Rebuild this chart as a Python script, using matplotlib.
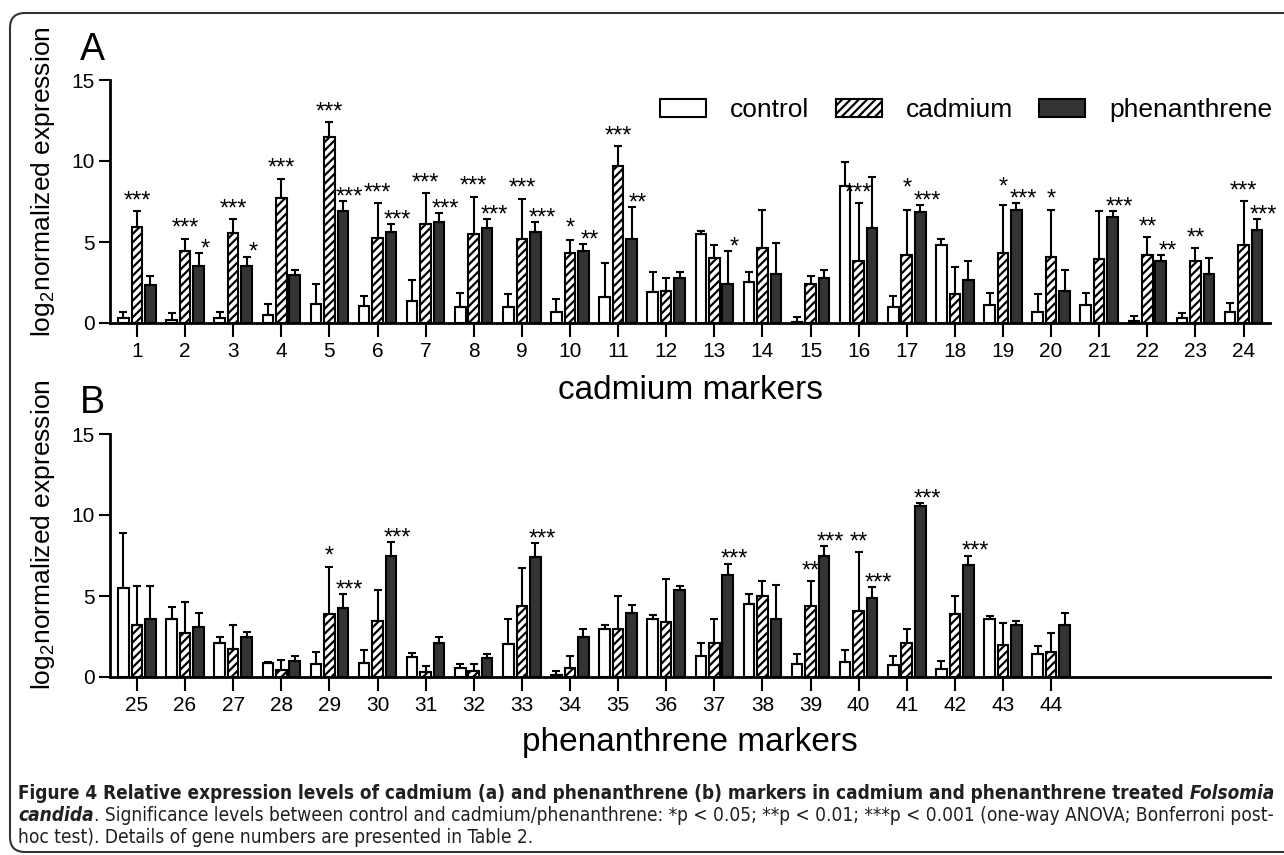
import numpy as np
import matplotlib
matplotlib.use('Agg')
import matplotlib.pyplot as plt
from matplotlib.patches import FancyBboxPatch, Patch
from matplotlib import font_manager

plt.rcParams['font.family'] = ['Liberation Sans', 'DejaVu Sans']
plt.rcParams['mathtext.fontset'] = 'custom'
plt.rcParams['mathtext.rm'] = 'Liberation Sans'
plt.rcParams['hatch.linewidth'] = 1.6

# ---- panel A : cadmium markers ----
cd_markers = [str(i) for i in range(1, 25)]
cd_control = [0.3, 0.2, 0.3, 0.5, 1.15, 1.05, 1.37, 1.0, 1.0, 0.7, 1.6, 1.9,
              5.5, 2.55, 0.05, 8.45, 1.0, 4.8, 1.1, 0.7, 1.1, 0.15, 0.3, 0.65]
cd_control_err = [0.4, 0.4, 0.4, 0.7, 1.25, 0.62, 1.28, 0.85, 0.8, 0.8, 2.1, 1.25,
                  0.2, 0.6, 0.3, 1.5, 0.67, 0.4, 0.75, 1.1, 0.75, 0.3, 0.3, 0.6]
cd_cadmium = [5.9, 4.45, 5.55, 7.7, 11.5, 5.25, 6.1, 5.5, 5.2, 4.35, 9.7, 2.0,
              4.0, 4.6, 2.4, 3.8, 4.2, 1.8, 4.3, 4.05, 3.95, 4.2, 3.85, 4.8]
cd_cadmium_err = [1.0, 0.75, 0.85, 1.2, 0.9, 2.15, 1.9, 2.3, 2.45, 0.75, 1.2, 0.8,
                  0.8, 2.4, 0.5, 3.6, 2.8, 1.65, 3.0, 2.95, 2.95, 1.1, 0.75, 2.7]
cd_phen = [2.35, 3.5, 3.5, 2.95, 6.9, 5.6, 6.25, 5.85, 5.6, 4.45, 5.2, 2.8,
           2.4, 3.0, 2.8, 5.85, 6.85, 2.65, 6.95, 2.0, 6.55, 3.85, 3.0, 5.75]
cd_phen_err = [0.55, 0.8, 0.6, 0.35, 0.6, 0.5, 0.55, 0.55, 0.65, 0.4, 1.95, 0.35,
               2.05, 1.95, 0.5, 3.15, 0.45, 1.15, 0.45, 1.3, 0.35, 0.35, 1.0, 0.65]
cd_sig_cadmium = ['***', '***', '***', '***', '***', '***', '***', '***', '***', '*', '***', '',
                  '', '', '', '***', '*', '', '*', '*', '', '**', '**', '***']
cd_sig_phen = ['', '*', '*', '', '***', '***', '***', '***', '***', '**', '**', '',
               '*', '', '', '', '***', '', '***', '', '***', '**', '', '***']

# ---- panel B : phenanthrene markers ----
ph_markers = [str(i) for i in range(25, 45)]
ph_control = [5.5, 3.6, 2.1, 0.85, 0.8, 0.85, 1.25, 0.55, 2.05, 0.15,
              2.95, 3.6, 1.3, 4.5, 0.8, 0.9, 0.75, 0.5, 3.6, 1.4]
ph_control_err = [3.4, 0.75, 0.4, 0.08, 0.75, 0.8, 0.25, 0.25, 1.55, 0.25,
                  0.25, 0.2, 0.8, 0.6, 0.6, 0.75, 0.55, 0.5, 0.15, 0.5]
ph_cadmium = [3.2, 2.7, 1.7, 0.45, 3.9, 3.45, 0.3, 0.4, 4.4, 0.55,
              2.95, 3.4, 2.1, 5.0, 4.4, 4.1, 2.1, 3.9, 2.0, 1.55]
ph_cadmium_err = [2.4, 1.9, 1.5, 0.6, 2.9, 1.95, 0.4, 0.4, 2.3, 0.75,
                  2.05, 2.65, 1.5, 0.9, 1.5, 3.6, 0.85, 1.1, 1.35, 1.15]
ph_phen = [3.6, 3.1, 2.5, 1.0, 4.25, 7.45, 2.1, 1.15, 7.4, 2.45,
           3.95, 5.4, 6.3, 3.6, 7.45, 4.9, 10.55, 6.9, 3.2, 3.2]
ph_phen_err = [2.0, 0.85, 0.3, 0.3, 0.85, 0.9, 0.4, 0.25, 0.85, 0.5,
               0.5, 0.2, 0.7, 2.1, 0.65, 0.65, 0.2, 0.6, 0.25, 0.75]
ph_sig_cadmium = ['', '', '', '', '*', '', '', '', '', '',
                  '', '', '', '', '**', '**', '', '', '', '']
ph_sig_phen = ['', '', '', '', '***', '***', '', '', '***', '',
               '', '', '***', '', '***', '***', '***', '***', '', '']

W, H = 1284, 855
fig = plt.figure(figsize=(W / 100, H / 100), dpi=100)


def px_axes(left, right, bottom, top):
    return fig.add_axes([left / W, 1 - bottom / H, (right - left) / W, (bottom - top) / H])


PHEN_COLOR = '#333333'


def draw_panel(ax, labels, ctrl, ctrl_e, cad, cad_e, phen, phen_e, sig_cad, sig_phen):
    x = np.arange(len(labels))
    off, w = 0.28, 0.22
    ax.bar(x - off, ctrl, w, color='white', edgecolor='black', lw=1.5, zorder=2)
    ax.bar(x, cad, w, color='white', edgecolor='black', hatch='////', lw=1.5, zorder=2)
    ax.bar(x + off, phen, w, color=PHEN_COLOR, edgecolor='black', lw=1.5, zorder=2)
    for xs, v, e in [(x - off, ctrl, ctrl_e), (x, cad, cad_e), (x + off, phen, phen_e)]:
        ax.errorbar(xs, v, yerr=[np.zeros(len(v)), e], fmt='none', ecolor='black',
                    elinewidth=1.5, capsize=3, capthick=1.5, zorder=3)
    # significance stars (baseline positions, nudged apart when they would collide)
    for i in range(len(labels)):
        y_cad = cad[i] + cad_e[i] + 0.25
        y_ph = phen[i] + phen_e[i] - 0.15
        if sig_cad[i] and sig_phen[i] and abs(y_cad - y_ph) < 0.75:
            if y_cad >= y_ph:
                y_cad = y_ph + 0.75
            else:
                y_ph = y_cad + 0.75
        if sig_cad[i]:
            ax.text(x[i], y_cad, sig_cad[i], ha='center', va='baseline',
                    fontsize=17, clip_on=False)
        if sig_phen[i]:
            ax.text(x[i] + off + 0.14, y_ph, sig_phen[i], ha='center', va='baseline',
                    fontsize=17, clip_on=False)
    ax.set_xlim(-0.56, 23.55)
    ax.set_ylim(0, 15)
    ax.set_yticks([0, 5, 10, 15])
    ax.set_xticks(x)
    ax.set_xticklabels(labels)
    for s in ['top', 'right']:
        ax.spines[s].set_visible(False)
    for s in ['left', 'bottom']:
        ax.spines[s].set_linewidth(2)
    ax.tick_params(axis='x', length=10, width=1.5, pad=4, labelsize=15)
    ax.tick_params(axis='y', length=8, width=1.5, pad=3, labelsize=15)


axA = px_axes(110, 1270, 323, 80)
axB = px_axes(110, 1270, 677, 434)
draw_panel(axA, cd_markers, cd_control, cd_control_err, cd_cadmium, cd_cadmium_err,
           cd_phen, cd_phen_err, cd_sig_cadmium, cd_sig_phen)
draw_panel(axB, ph_markers, ph_control, ph_control_err, ph_cadmium, ph_cadmium_err,
           ph_phen, ph_phen_err, ph_sig_cadmium, ph_sig_phen)

# legend
handles = [Patch(facecolor='white', edgecolor='black', lw=1.5, label='control'),
           Patch(facecolor='white', edgecolor='black', hatch='////', lw=1.5, label='cadmium'),
           Patch(facecolor=PHEN_COLOR, edgecolor='black', lw=1.5, label='phenanthrene')]
fig.legend(handles=handles, loc='center left', bbox_to_anchor=(660 / W, 1 - 110 / H),
           ncol=3, frameon=False, fontsize=19, handlelength=1.75, handleheight=0.65,
           handletextpad=0.9, columnspacing=1.0, borderpad=0, borderaxespad=0)

# panel letters and axis titles
fig.text(92 / W, 1 - 50 / H, 'A', fontsize=27, ha='center', va='center')
fig.text(92 / W, 1 - 403 / H, 'B', fontsize=27, ha='center', va='center')
ylab = r'log$_\mathregular{2}$normalized expression'
fig.text(43 / W, 1 - 182 / H, ylab, rotation=90, ha='center', va='center', fontsize=19)
fig.text(43 / W, 1 - 535 / H, ylab, rotation=90, ha='center', va='center', fontsize=19)
fig.text(690 / W, 1 - 390 / H, 'cadmium markers', fontsize=24, ha='center', va='center')
fig.text(690 / W, 1 - 742 / H, 'phenanthrene markers', fontsize=24, ha='center', va='center')

# rounded frame (right edge runs off the picture, as in the source)
fig.patches.append(FancyBboxPatch((0.10, 0.03), 13.0, 8.39,
                                  boxstyle='round,pad=0,rounding_size=0.15',
                                  transform=fig.dpi_scale_trans, fill=False,
                                  lw=1.5, ec='#333333'))

# caption: use a condensed face if one is installed, else Roboto
cap_font, cap_stretch = 'Roboto', 'normal'
for f in font_manager.fontManager.ttflist:
    if ('Condensed' in f.name or 'Narrow' in f.name or
            f.stretch in ('condensed', 'semi-condensed')):
        cap_font, cap_stretch = f.name, f.stretch
        break
x_left, x_right = 18, 1274
fig.canvas.draw()
rend = fig.canvas.get_renderer()


def caption_line(pieces, ybase, fs, target=None):
    texts = [fig.text(0, 1 - ybase / H, s, fontsize=fs, fontweight=wt, fontstyle=st,
                      family=cap_font, fontstretch=cap_stretch,
                      ha='left', va='baseline', color='#231f20')
             for s, wt, st in pieces]

    def layout():
        xp = x_left
        for t in texts:
            t.set_x(xp / W)
            xp += t.get_window_extent(rend).width
        return xp - x_left

    total = layout()
    if target:
        fs = fs * target / total
        for t in texts:
            t.set_fontsize(fs)
        layout()
    return fs


caption_line([('Figure 4 Relative expression levels of cadmium (a) and phenanthrene (b) '
               'markers in cadmium and phenanthrene treated', 'bold', 'normal'),
              (' Folsomia', 'bold', 'italic')], 799, 13, target=x_right - x_left)
fs2 = caption_line([('candida', 'bold', 'italic'),
                    ('. Significance levels between control and cadmium/phenanthrene: '
                     '*p < 0.05; **p < 0.01; ***p < 0.001 (one-way ANOVA; Bonferroni post-',
                     'normal', 'normal')], 821, 13, target=x_right - x_left)
caption_line([('hoc test). Details of gene numbers are presented in Table 2.', 'normal', 'normal')],
             843, fs2)

fig.savefig('out.png', dpi=100)
